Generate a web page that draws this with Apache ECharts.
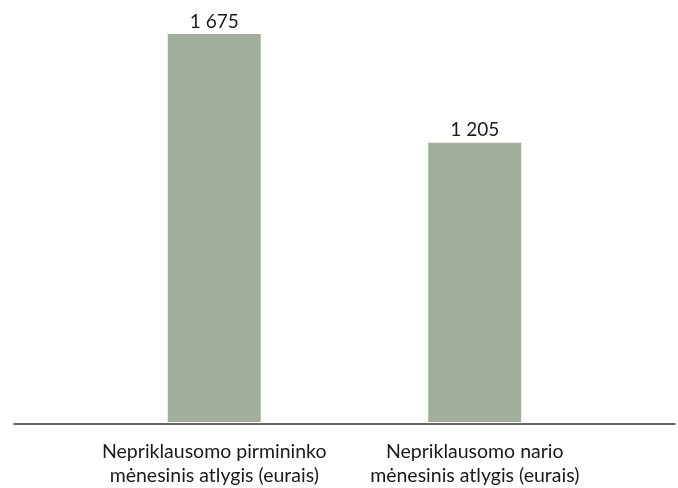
<!DOCTYPE html>
<html><head><meta charset="utf-8">
<script src="https://cdn.jsdelivr.net/npm/echarts@6/dist/echarts.min.js"></script>
<style>html,body{margin:0;padding:0;background:#fff}#c{width:678px;height:488px}</style>
</head><body><div id="c"></div>
<script>
const categories = ['Nepriklausomo pirmininko\nmėnesinis atlygis (eurais)', 'Nepriklausomo nario\nmėnesinis atlygis (eurais)'];
const values = [1675, 1205];
const yMax = 1800;

const chart = echarts.init(document.getElementById('c'), null, {renderer: 'canvas'});
const font = "Lato, sans-serif";
chart.setOption({
  animation: false,
  grid: [
    {left: 84, right: 73, top: 5, bottom: 64.5},
    {left: 14, right: 3, top: 5, bottom: 64.5}
  ],
  xAxis: [
    {type: 'category', gridIndex: 0, data: categories,
     axisLine: {show: false}, axisTick: {show: false},
     axisLabel: {color: '#1a1a1a', fontFamily: font, fontSize: 19.5, lineHeight: 24, margin: 18, interval: 0}},
    {type: 'category', gridIndex: 1, data: [''],
     axisLine: {show: true, lineStyle: {color: '#333', width: 1.5}}, axisTick: {show: false}, axisLabel: {show: false}}
  ],
  yAxis: [
    {type: 'value', gridIndex: 0, min: 0, max: yMax, show: false},
    {type: 'value', gridIndex: 1, min: 0, max: yMax, show: false}
  ],
  series: [{
    type: 'bar', xAxisIndex: 0, yAxisIndex: 0, data: values, barWidth: 93,
    itemStyle: {color: '#a2ae9c'},
    label: {show: true, position: 'top', distance: 3, color: '#1a1a1a', fontFamily: font, fontSize: 19,
      formatter: p => String(p.value).replace(/\B(?=(\d{3})+(?!\d))/g, ' ')}
  }]
});
</script></body></html>
